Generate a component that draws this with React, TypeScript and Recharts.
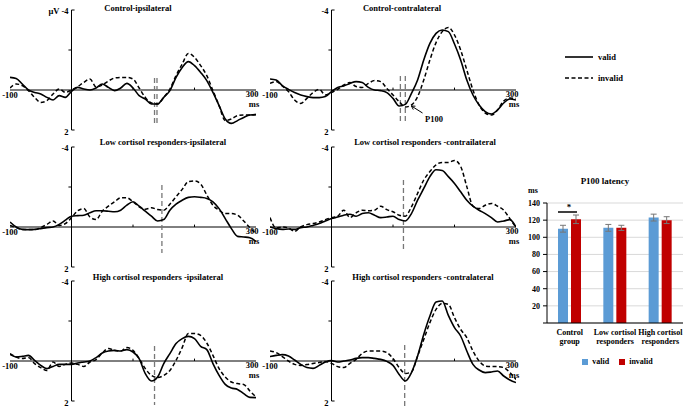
import React from 'react';
import {
  LineChart,
  Line,
  XAxis,
  YAxis,
  ReferenceLine,
  BarChart,
  Bar,
  CartesianGrid,
  ErrorBar,
  Legend,
} from 'recharts';

const FONT = "'Liberation Serif', 'Times New Roman', serif";

// sample times of the ERP waveforms (ms)
const times = [
  -100, -90, -80, -70, -60, -50, -40, -30, -20, -10,
  0, 10, 20, 30, 40, 50, 60, 70, 80, 90,
  100, 110, 120, 130, 140, 150, 160, 170, 180, 190,
  200, 210, 220, 230, 240, 250, 260, 270, 280, 290,
  300,
];

// amplitudes in µV (negative is drawn upward)
const ctrlIpsiValid = [
  -0.63, -0.58, -0.3, 0, 0.12, 0.2, 0.37, 0.5, 0.28, 0.37,
  0.07, -0.13, -0.05, 0, -0.1, -0.3, -0.13, 0.03, -0.1, -0.33,
  -0.1, 0.28, 0.45, 0.7, 0.7, 0.37, 0.03, -0.63, -1.13, -1.42,
  -1.22, -0.88, -0.47, 0.12, 0.78, 1.45, 1.67, 1.53, 1.37, 1.25,
  1.23,
];
const ctrlIpsiInvalid = [
  -0.1, -0.3, -0.22, 0.03, 0.37, 0.62, 0.53, 0.2, -0.05, 0.12,
  0, -0.17, -0.38, -0.55, -0.15, -0.25, -0.45, -0.6, -0.63, -0.63,
  -0.55, -0.1, 0.37, 0.65, 0.7, 0.37, -0.05, -0.72, -1.3, -1.83,
  -1.63, -1.22, -0.72, 0.03, 0.78, 1.53, 1.45, 1.28, 1.25, 1.25,
  1.23,
];
const ctrlContraValid = [
  -0.55, -0.5, -0.22, -0.03, 0.13, 0.25, 0.33, 0.38, 0.38, 0.33,
  0.08, -0.13, -0.2, -0.33, -0.42, -0.37, -0.13, 0, 0.03, 0.13,
  0.42, 0.8, 0.72, 0.17, -0.5, -1.5, -2.33, -2.83, -3.0, -2.92,
  -2.3, -1.5, -0.5, 0.25, 0.75, 1.08, 1.2, 1.0, 0.65, 0.45,
  0.5,
];
const ctrlContraInvalid = [
  -0.33, -0.42, -0.2, 0.08, 0.5, 0.67, 0.42, 0.13, -0.03, 0.25,
  0.13, -0.03, -0.25, -0.37, -0.17, -0.13, -0.33, -0.47, -0.42, -0.08,
  0.25, 0.58, 0.85, 0.75, 0.33, -0.5, -1.5, -2.37, -2.92, -3.13,
  -2.75, -2.0, -1.0, 0, 0.75, 1.15, 1.25, 1.0, 0.55, 0.4,
  0.42,
];
const lowIpsiValid = [
  -0.25, 0, 0.12, 0.13, 0.12, 0.08, 0.03, 0, -0.13, -0.34,
  -0.54, -0.57, -0.59, -0.71, -0.81, -0.81, -0.79, -0.76, -0.84, -1.09,
  -1.26, -1.04, -0.79, -0.54, -0.3, -0.37, -0.84, -1.14, -1.34, -1.48,
  -1.51, -1.48, -1.43, -1.26, -0.92, -0.42, 0.08, 0.47, 0.5, 0.54,
  0.72,
];
const lowIpsiInvalid = [
  -0.08, 0.03, 0.13, 0.13, 0.13, 0.03, -0.13, -0.3, -0.08, -0.17,
  -0.47, -0.81, -0.92, -0.5, -0.37, -0.79, -1.04, -1.26, -1.46, -1.46,
  -1.26, -1.01, -0.89, -0.96, -0.87, -0.84, -1.14, -1.51, -1.88, -2.27,
  -2.3, -2.15, -1.6, -1.09, -0.84, -0.67, -0.67, -0.59, -0.3, 0.03,
  0.34,
];
const lowContraValid = [
  0, 0.08, 0.12, 0.1, 0.12, 0.03, 0, -0.08, -0.17, -0.3,
  -0.42, -0.5, -0.59, -0.64, -0.54, -0.67, -0.71, -0.59, -0.47, -0.5,
  -0.54, -0.37, -0.3, -0.67, -1.34, -1.93, -2.52, -2.86, -2.82, -2.52,
  -2.18, -1.76, -1.34, -1.04, -0.84, -0.67, -0.47, -0.25, -0.3, -0.37,
  0,
];
const lowContraInvalid = [
  -0.47, 0.05, 0, 0.05, 0.22, 0, -0.12, -0.17, -0.25, -0.37,
  -0.47, -0.54, -0.84, -0.47, -0.71, -0.84, -0.81, -0.84, -1.04, -0.87,
  -0.76, -0.59, -0.54, -1.01, -1.68, -2.35, -2.77, -3.11, -3.23, -3.23,
  -3.33, -3.03, -2.02, -1.04, -0.92, -1.09, -1.18, -1.04, -0.84, -0.42,
  0.03,
];
const highIpsiValid = [
  -0.33, -0.2, -0.23, -0.28, -0.03, 0.22, 0.38, 0.27, 0.17, 0.17,
  0.17, 0.1, 0.05, 0, -0.17, -0.4, -0.5, -0.53, -0.5, -0.57,
  -0.45, -0.12, 0.63, 1.0, 0.8, 0.13, -0.37, -0.87, -1.12, -1.23,
  -1.12, -0.73, -0.57, 0.13, 0.72, 1.17, 1.35, 1.42, 1.63, 1.82,
  1.83,
];
const highIpsiInvalid = [
  -0.37, -0.2, -0.12, -0.17, 0.13, 0.33, 0.47, 0.05, 0.27, 0.17,
  0.1, 0.17, 0.27, 0.05, -0.07, -0.4, -0.62, -0.53, -0.5, -0.67,
  -0.53, -0.12, 0.38, 0.72, 0.83, 0.72, 0.47, -0.03, -0.67, -1.37,
  -1.37, -1.28, -0.9, -0.28, 0.38, 0.8, 1.05, 1.13, 1.17, 1.5,
  1.8,
];
const highContraValid = [
  -0.22, -0.28, -0.32, -0.25, -0.05, 0.17, 0.33, 0.37, 0.22, 0.05,
  -0.02, 0.05, 0, -0.05, -0.13, -0.17, -0.17, -0.13, -0.08, 0.02,
  0.22, 0.67, 1.0, 0.58, -0.25, -1.33, -2.25, -2.95, -3.0, -2.28,
  -1.67, -1.25, -0.5, 0.17, 0.45, 0.58, 0.55, 0.5, 0.75, 0.95,
  1.08,
];
const highContraInvalid = [
  -0.5, -0.42, -0.22, 0, 0.17, 0.22, 0.18, 0.12, 0.08, 0.02,
  0.12, 0.28, 0.33, 0.12, -0.08, -0.38, -0.5, -0.5, -0.5, -0.42,
  -0.12, 0.33, 0.62, 0.55, -0.25, -1.08, -1.92, -2.58, -2.88, -2.83,
  -2.17, -1.58, -1.17, -0.5, 0, 0.25, 0.28, 0.28, 0.33, 0.58,
  0.92,
];

const panelTitles = [
  'Control-ipsilateral',
  'Control-contralateral',
  'Low cortisol responders-ipsilateral',
  'Low cortisol responders -contrailateral',
  'High cortisol responders -ipsilateral',
  'High cortisol responders -contralateral',
];

// P100 peak markers (ms) and their vertical extent (µV)
const markerTimes = [[135, 139], [112, 120], [147], [117], [135], [119]];
const markerSpans = [[-0.6, 1.7], [-0.7, 1.6], [-2.1, 1.3], [-2.35, 1.25], [-0.75, 2.2], [-0.8, 2.3]];

// bar chart: P100 latency
const groups = ['Control\ngroup', 'Low cortisol\nresponders', 'High cortisol\nresponders'];
const latencyValid = [110, 111, 123];
const latencyInvalid = [121, 111, 120];
const errValid = [4, 4, 4];
const errInvalid = [5, 3, 4];
const latencyTicks = [0, 20, 40, 60, 80, 100, 120, 140];

const series = [
  [ctrlIpsiValid, ctrlIpsiInvalid],
  [ctrlContraValid, ctrlContraInvalid],
  [lowIpsiValid, lowIpsiInvalid],
  [lowContraValid, lowContraInvalid],
  [highIpsiValid, highIpsiInvalid],
  [highContraValid, highContraInvalid],
];

const PLOT_W = 246;
const PLOT_H = 120;

const layout = [
  { left: 10, top: 10, titleX: 138, titleY: 8 },
  { left: 270, top: 10, titleX: 402, titleY: 8 },
  { left: 10, top: 147, titleX: 163, titleY: 142 },
  { left: 270, top: 147, titleX: 425, titleY: 142 },
  { left: 10, top: 281, titleX: 158, titleY: 277 },
  { left: 270, top: 281, titleX: 423, titleY: 277 },
];

const ErpPanel = ({ index }: { index: number }) => {
  const { left, top } = layout[index];
  const [valid, invalid] = series[index];
  const data = times.map((t, i) => ({ t, valid: valid[i], invalid: invalid[i] }));
  const [y1, y2] = markerSpans[index];
  return (
    <div style={{ position: 'absolute', left: left - 10, top: top - 12 }}>
      <LineChart
        width={PLOT_W + 20}
        height={PLOT_H + 24}
        data={data}
        margin={{ top: 12, right: 10, bottom: 12, left: 10 }}
      >
        <XAxis dataKey="t" type="number" domain={[-100, 300]} hide allowDataOverflow />
        <YAxis type="number" domain={[-4, 2]} reversed hide allowDataOverflow />
        <ReferenceLine y={0} stroke="#000" strokeWidth={1} />
        <ReferenceLine segment={[{ x: 0, y: -4 }, { x: 0, y: 2 }]} stroke="#000" strokeWidth={1} />
        <ReferenceLine segment={[{ x: 0, y: -4 }, { x: 5, y: -4 }]} stroke="#000" />
        <ReferenceLine segment={[{ x: -5, y: -2 }, { x: 0, y: -2 }]} stroke="#000" />
        <ReferenceLine segment={[{ x: 0, y: 2 }, { x: 5, y: 2 }]} stroke="#000" />
        <ReferenceLine segment={[{ x: 100, y: 0 }, { x: 100, y: -0.12 }]} stroke="#000" />
        <ReferenceLine segment={[{ x: 200, y: 0 }, { x: 200, y: -0.12 }]} stroke="#000" />
        {markerTimes[index].map((m) => (
          <ReferenceLine
            key={m}
            segment={[{ x: m, y: y1 }, { x: m, y: y2 }]}
            stroke="#777"
            strokeWidth={1.3}
            strokeDasharray="5 3"
            ifOverflow="visible"
          />
        ))}
        {index === 1 && (
          <ReferenceLine segment={[{ x: 148, y: 1.15 }, { x: 130, y: 0.8 }]} stroke="#000" />
        )}
        {index === 1 && (
          <ReferenceLine segment={[{ x: 130, y: 0.8 }, { x: 133, y: 0.98 }]} stroke="#000" />
        )}
        {index === 1 && (
          <ReferenceLine segment={[{ x: 130, y: 0.8 }, { x: 136.5, y: 0.81 }]} stroke="#000" />
        )}
        <Line
          dataKey="valid"
          type="monotone"
          stroke="#000"
          strokeWidth={1.6}
          dot={false}
          isAnimationActive={false}
        />
        <Line
          dataKey="invalid"
          type="monotone"
          stroke="#000"
          strokeWidth={1.5}
          strokeDasharray="4 2.5"
          dot={false}
          isAnimationActive={false}
        />
      </LineChart>
    </div>
  );
};

const CategoryTick = (props: any) => {
  const { x, y, payload } = props;
  const lines = String(payload.value).split('\n');
  return (
    <text x={x} y={y} textAnchor="middle" fontFamily={FONT} fontWeight="bold" fontSize={8} fill="#000">
      {lines.map((l, i) => (
        <tspan key={i} x={x} dy={i === 0 ? '0.71em' : 9}>
          {l}
        </tspan>
      ))}
    </text>
  );
};

const LatencyChart = () => {
  const data = groups.map((g, i) => ({
    group: g,
    valid: latencyValid[i],
    invalid: latencyInvalid[i],
    validErr: errValid[i],
    invalidErr: errInvalid[i],
  }));
  return (
    <div style={{ position: 'absolute', left: 520, top: 188 }}>
      <BarChart
        width={165}
        height={185}
        data={data}
        margin={{ top: 15, right: 2, bottom: 2, left: 6 }}
        barGap={3}
        barSize={10}
      >
        <CartesianGrid vertical={false} stroke="#d9d9d9" />
        <XAxis
          dataKey="group"
          interval={0}
          height={34}
          tickLine={false}
          tickSize={4}
          tick={<CategoryTick />}
          axisLine={{ stroke: '#000' }}
        />
        <YAxis
          width={21}
          domain={[0, 140]}
          ticks={latencyTicks}
          interval={0}
          tickSize={4}
          tickMargin={3}
          tickFormatter={(v) => (v === 0 ? '' : String(v))}
          tick={{ fontFamily: FONT, fontWeight: 'bold', fontSize: 8, fill: '#000' }}
          axisLine={{ stroke: '#000' }}
          tickLine={{ stroke: '#000' }}
        />
        <Legend
          verticalAlign="bottom"
          height={14}
          iconType="square"
          iconSize={6}
          itemSorter={(item: any) => (item.value === 'valid' ? 0 : 1)}
          wrapperStyle={{ left: 24, fontFamily: FONT, fontWeight: 'bold', fontSize: 8 }}
          formatter={(v) => <span style={{ color: '#000' }}>{v}</span>}
        />
        <Bar dataKey="valid" name="valid" fill="#5B9BD5" isAnimationActive={false}>
          <ErrorBar dataKey="validErr" width={3} stroke="#777" strokeWidth={1} />
        </Bar>
        <Bar dataKey="invalid" name="invalid" fill="#C00000" isAnimationActive={false}>
          <ErrorBar dataKey="invalidErr" width={3} stroke="#777" strokeWidth={1} />
        </Bar>
      </BarChart>
    </div>
  );
};

const Labels = () => {
  const txt = { fontFamily: FONT, fontWeight: 'bold' as const, fontSize: 8.5, fill: '#000' };
  return (
    <svg
      width={685}
      height={411}
      style={{ position: 'absolute', left: 0, top: 0, pointerEvents: 'none' }}
    >
      {layout.map((p, i) => {
        const zero = p.top + (PLOT_H * 4) / 6;
        const axisX = p.left + PLOT_W / 4;
        return (
          <g key={i}>
            <text x={p.titleX} y={p.titleY} textAnchor="middle" dominantBaseline="central" {...txt}>
              {panelTitles[i]}
            </text>
            <text x={p.left} y={zero + 5} textAnchor="middle" dominantBaseline="central" {...txt}>
              -100
            </text>
            <text x={p.left + 242} y={zero + 4} textAnchor="middle" dominantBaseline="central" {...txt}>
              300
            </text>
            <text x={p.left + 244} y={zero + 13.5} textAnchor="middle" dominantBaseline="central" {...txt}>
              ms
            </text>
            <text x={axisX - 3} y={p.top + 1} textAnchor="end" dominantBaseline="central" {...txt}>
              -4
            </text>
            <text x={axisX - 3} y={p.top + PLOT_H + 2} textAnchor="end" dominantBaseline="central" {...txt}>
              2
            </text>
            {i === 0 && (
              <text x={axisX - 12} y={p.top + 1} textAnchor="end" dominantBaseline="central" {...txt}>
                µV
              </text>
            )}
          </g>
        );
      })}
      <text x={425} y={119} dominantBaseline="central" {...txt}>
        P100
      </text>

      {/* line legend */}
      <line x1={565} y1={57} x2={593} y2={57} stroke="#000" strokeWidth={1.6} />
      <text x={598} y={57} dominantBaseline="central" {...txt}>
        valid
      </text>
      <line x1={565} y1={78} x2={593} y2={78} stroke="#000" strokeWidth={1.5} strokeDasharray="4 2.5" />
      <text x={598} y={78} dominantBaseline="central" {...txt}>
        invalid
      </text>

      {/* bar chart annotations */}
      <text x={605} y={181} textAnchor="middle" dominantBaseline="central" {...txt} fontSize={9}>
        P100 latency
      </text>
      <text x={533} y={190} textAnchor="middle" dominantBaseline="central" {...txt} fontSize={8}>
        ms
      </text>
      <line x1={558} y1={212} x2={577} y2={212} stroke="#000" strokeWidth={1.5} />
      <text x={569} y={207} textAnchor="middle" dominantBaseline="central" {...txt} fontSize={9}>
        *
      </text>
    </svg>
  );
};

export default function App() {
  return (
    <div
      style={{
        position: 'absolute',
        left: 0,
        top: 0,
        width: 685,
        height: 411,
        background: '#fff',
        overflow: 'hidden',
        fontFamily: FONT,
      }}
    >
      {layout.map((_, i) => (
        <ErpPanel key={i} index={i} />
      ))}
      <LatencyChart />
      <Labels />
    </div>
  );
}
